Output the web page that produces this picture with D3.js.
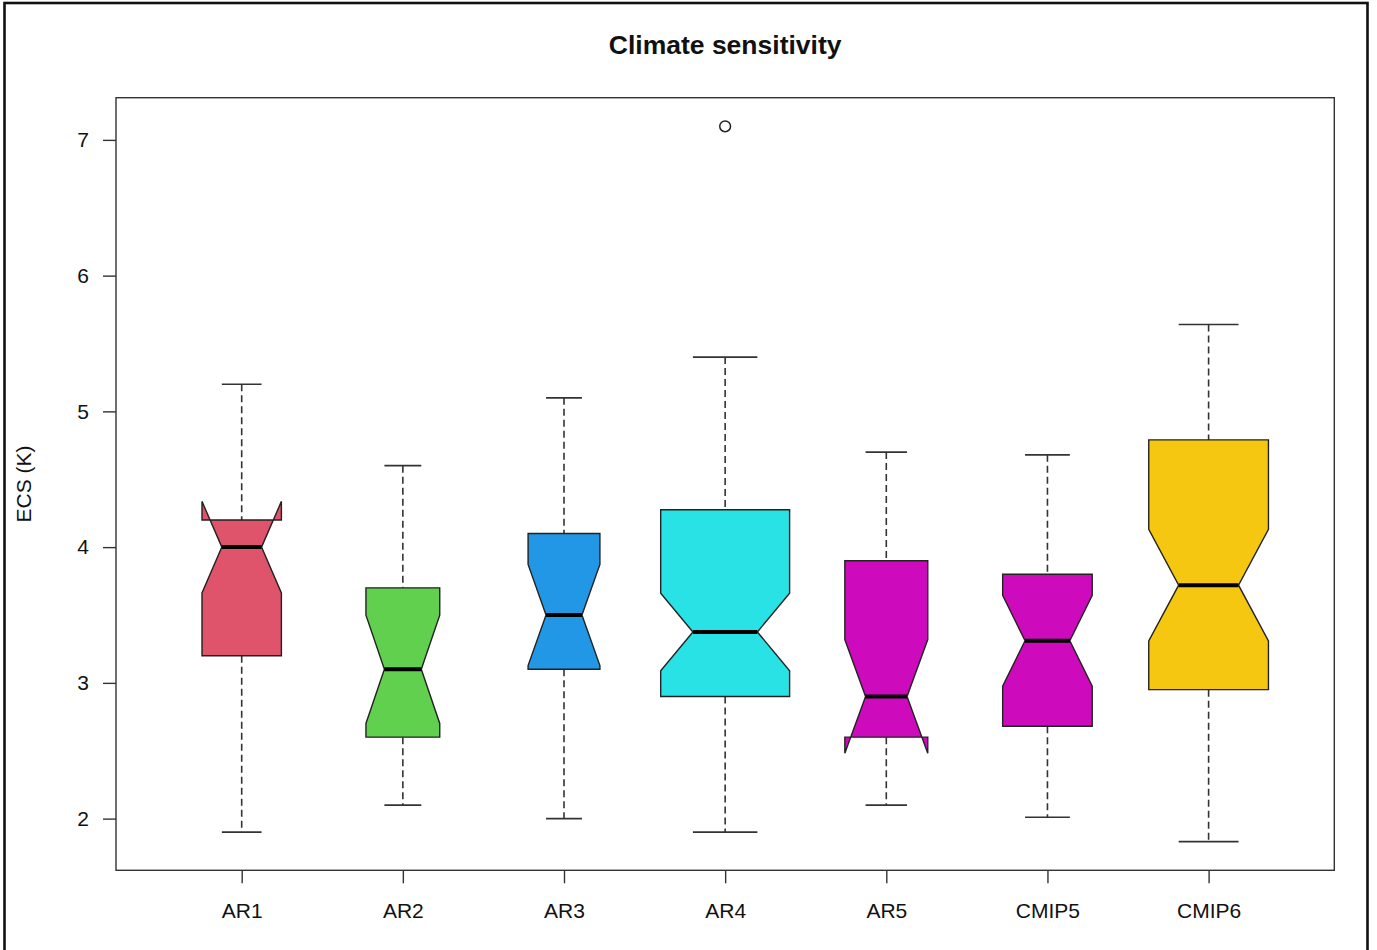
<!DOCTYPE html>
<html>
<head>
<meta charset="utf-8">
<script src="https://cdn.jsdelivr.net/npm/d3@7"></script>
<style>
  html, body { margin: 0; padding: 0; background: #fff; }
  svg { display: block; font-family: "Liberation Sans", Arial, Helvetica, sans-serif; }
</style>
</head>
<body>
<svg id="chart" width="1377" height="950"></svg>
<script>
// ---- Data ----
const categories   = ["AR1", "AR2", "AR3", "AR4", "AR5", "CMIP5", "CMIP6"];
const whiskerLow   = [1.90, 2.10, 2.00, 1.90, 2.10, 2.01, 1.83];
const quartile1    = [3.20, 2.60, 3.10, 2.90, 2.60, 2.68, 2.95];
const medians      = [4.00, 3.10, 3.50, 3.375, 2.90, 3.31, 3.72];
const quartile3    = [4.20, 3.70, 4.10, 4.275, 3.90, 3.80, 4.79];
const whiskerHigh  = [5.20, 4.60, 5.10, 5.40, 4.70, 4.68, 5.64];
const sampleSizes  = [22, 19, 18, 58, 24, 28, 50];
const outliers     = [{ group: "AR4", value: 7.10 }];
const boxColors    = ["#DF536B", "#61D04F", "#2297E6", "#28E2E5", "#CD0BBC", "#CD0BBC", "#F5C710"];
const yTicks       = [2, 3, 4, 5, 6, 7];
const titleText    = "Climate sensitivity";
const yLabelText   = "ECS (K)";

const groups = categories.map((c, i) => ({
  name: c, idx: i + 1,
  lo: whiskerLow[i], q1: quartile1[i], med: medians[i], q3: quartile3[i], hi: whiskerHigh[i],
  n: sampleSizes[i], color: boxColors[i]
}));

// ---- Layout ----
const svg = d3.select("#chart");
const plot = { left: 116, right: 1334.3, top: 97.7, bottom: 870.3 };

// R-style ranges: xlim = c(0.5, n + 0.5), ylim = data range; both expanded by 4%
const allVals = whiskerLow.concat(whiskerHigh, outliers.map(o => o.value));
const yMin = d3.min(allVals), yMax = d3.max(allVals);
const yPad = (yMax - yMin) * 0.04;
const y = d3.scaleLinear().domain([yMin - yPad, yMax + yPad]).range([plot.bottom, plot.top]);
const xLo = 0.5, xHi = categories.length + 0.5, xPad = (xHi - xLo) * 0.04;
const x = d3.scaleLinear().domain([xLo - xPad, xHi + xPad]).range([plot.left, plot.right]);

const maxSqrt = d3.max(sampleSizes, n => Math.sqrt(n));
const unit = x(1) - x(0);

// Outer frame of the image
svg.append("rect")
  .attr("x", 4.5).attr("y", 3).attr("width", 1363).attr("height", 960)
  .attr("fill", "none").attr("stroke", "#111").attr("stroke-width", 2.6);

// Title
svg.append("text")
  .attr("x", (plot.left + plot.right) / 2).attr("y", 53.5)
  .attr("text-anchor", "middle")
  .attr("font-size", 26.5).attr("font-weight", "bold").attr("fill", "#111")
  .text(titleText);

// Y axis label
svg.append("text")
  .attr("transform", `translate(30.5, ${(plot.top + plot.bottom) / 2}) rotate(-90)`)
  .attr("text-anchor", "middle")
  .attr("font-size", 21).attr("fill", "#111")
  .text(yLabelText);

// Axes
const yAxis = d3.axisLeft(y).tickValues(yTicks).tickSize(13).tickPadding(14).tickFormat(d3.format("d"));
const gy = svg.append("g").attr("transform", `translate(${plot.left},0)`).call(yAxis);
gy.select(".domain").remove();
gy.selectAll(".tick line").attr("stroke", "#333").attr("stroke-width", 1.4);
gy.selectAll(".tick text").attr("font-size", 21).attr("fill", "#111").attr("font-family", "Liberation Sans, Arial, sans-serif");

const xAxis = d3.axisBottom(x).tickValues(groups.map(g => g.idx)).tickSize(13).tickPadding(20)
  .tickFormat(d => categories[d - 1]);
const gx = svg.append("g").attr("transform", `translate(0,${plot.bottom})`).call(xAxis);
gx.select(".domain").remove();
gx.selectAll(".tick line").attr("stroke", "#333").attr("stroke-width", 1.4);
gx.selectAll(".tick text").attr("font-size", 21).attr("fill", "#111").attr("font-family", "Liberation Sans, Arial, sans-serif");

// Plot frame
svg.append("rect")
  .attr("x", plot.left).attr("y", plot.top)
  .attr("width", plot.right - plot.left).attr("height", plot.bottom - plot.top)
  .attr("fill", "none").attr("stroke", "#333").attr("stroke-width", 1.4);

// Boxes
const gBoxes = svg.append("g");
groups.forEach(g => {
  const cx = x(g.idx);
  const w = 0.8 * Math.sqrt(g.n) / maxSqrt * unit;
  const half = w / 2;
  const notch = 1.58 * (g.q3 - g.q1) / Math.sqrt(g.n);
  const nLo = g.med - notch, nHi = g.med + notch;
  const grp = gBoxes.append("g");

  // whiskers (dashed)
  grp.append("line").attr("x1", cx).attr("x2", cx).attr("y1", y(g.hi)).attr("y2", y(g.q3))
    .attr("stroke", "#333").attr("stroke-width", 1.6).attr("stroke-dasharray", "7,4");
  grp.append("line").attr("x1", cx).attr("x2", cx).attr("y1", y(g.q1)).attr("y2", y(g.lo))
    .attr("stroke", "#333").attr("stroke-width", 1.6).attr("stroke-dasharray", "7,4");
  // staples
  [g.hi, g.lo].forEach(v => {
    grp.append("line").attr("x1", cx - half / 2).attr("x2", cx + half / 2)
      .attr("y1", y(v)).attr("y2", y(v))
      .attr("stroke", "#333").attr("stroke-width", 1.7);
  });

  // notched box polygon (R bxp order)
  const pts = [
    [cx - half, y(g.q1)], [cx - half, y(nLo)], [cx - half / 2, y(g.med)],
    [cx - half, y(nHi)], [cx - half, y(g.q3)], [cx + half, y(g.q3)],
    [cx + half, y(nHi)], [cx + half / 2, y(g.med)], [cx + half, y(nLo)],
    [cx + half, y(g.q1)]
  ];
  grp.append("polygon")
    .attr("points", pts.map(p => p.join(",")).join(" "))
    .attr("fill", g.color).attr("stroke", "#222").attr("stroke-width", 1.4)
    .attr("stroke-linejoin", "miter");

  // median
  grp.append("line").attr("x1", cx - half / 2).attr("x2", cx + half / 2)
    .attr("y1", y(g.med)).attr("y2", y(g.med))
    .attr("stroke", "#000").attr("stroke-width", 4);
});

// Outliers
svg.append("g").selectAll("circle").data(outliers).join("circle")
  .attr("cx", d => x(categories.indexOf(d.group) + 1))
  .attr("cy", d => y(d.value))
  .attr("r", 5.4)
  .attr("fill", "none").attr("stroke", "#222").attr("stroke-width", 1.5);
</script>
</body>
</html>
